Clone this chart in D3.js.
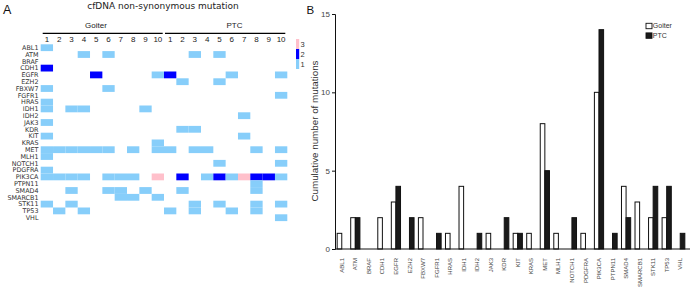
<!DOCTYPE html>
<html>
<head>
<meta charset="utf-8">
<script src="https://cdn.jsdelivr.net/npm/d3@7"></script>
<style>
  html, body { margin: 0; padding: 0; background: #fff; }
  svg { display: block; font-family: "Liberation Sans", Arial, sans-serif; }
</style>
</head>
<body>
<div id="chart"></div>
<script>
// Genes shown in both panels
const genes = ["ABL1", "ATM", "BRAF", "CDH1", "EGFR", "EZH2", "FBXW7", "FGFR1", "HRAS",
  "IDH1", "IDH2", "JAK3", "KDR", "KIT", "KRAS", "MET", "MLH1", "NOTCH1", "PDGFRA",
  "PIK3CA", "PTPN11", "SMAD4", "SMARCB1", "STK11", "TP53", "VHL"];

// Sample columns: Goiter 1-10, then PTC 1-10
const sampleLabels = ["1", "2", "3", "4", "5", "6", "7", "8", "9", "10",
  "1", "2", "3", "4", "5", "6", "7", "8", "9", "10"];

// Mutation counts per gene (rows) and sample (Goiter 1-10, PTC 1-10)
const mutationMatrix = [
  [1,0,0,0,0,0,0,0,0,0, 0,0,0,0,0,0,0,0,0,0], // ABL1
  [0,0,0,1,0,1,0,0,0,0, 0,0,1,0,1,0,0,0,0,0], // ATM
  [0,0,0,0,0,0,0,0,0,0, 0,0,0,0,0,0,0,0,0,0], // BRAF
  [2,0,0,0,0,0,0,0,0,0, 0,0,0,0,0,0,0,0,0,0], // CDH1
  [0,0,0,0,2,0,0,0,0,1, 2,0,0,0,0,1,0,0,0,1], // EGFR
  [0,0,0,0,0,0,0,0,0,0, 0,1,0,0,1,0,0,0,0,0], // EZH2
  [1,0,0,0,0,1,0,0,0,0, 0,0,0,0,0,0,0,0,0,0], // FBXW7
  [0,0,0,0,0,0,0,0,0,0, 0,0,0,0,0,0,0,0,0,1], // FGFR1
  [1,0,0,0,0,0,0,0,0,0, 0,0,0,0,0,0,0,0,0,0], // HRAS
  [1,0,1,1,0,0,0,0,1,0, 0,0,0,0,0,0,0,0,0,0], // IDH1
  [0,0,0,0,0,0,0,0,0,0, 0,0,0,0,0,0,1,0,0,0], // IDH2
  [1,0,0,0,0,0,0,0,0,0, 0,0,0,0,0,0,0,0,0,0], // JAK3
  [0,0,0,0,0,0,0,0,0,0, 0,1,1,0,0,0,0,0,0,0], // KDR
  [1,0,0,0,0,0,0,0,0,0, 0,0,0,0,0,0,1,0,0,0], // KIT
  [0,0,0,0,0,0,0,0,0,1, 0,0,0,0,0,0,0,0,0,0], // KRAS
  [1,1,1,1,1,1,0,1,0,1, 1,0,1,1,0,0,0,1,0,1], // MET
  [1,0,0,0,0,0,0,0,0,0, 0,0,0,0,0,0,0,0,0,0], // MLH1
  [0,0,0,0,0,0,0,0,0,0, 0,0,0,0,1,0,0,0,0,1], // NOTCH1
  [1,0,0,0,0,0,0,0,0,0, 0,0,0,0,0,0,0,0,0,0], // PDGFRA
  [1,1,1,1,0,1,1,1,0,3, 0,2,0,1,2,1,3,2,2,1], // PIK3CA
  [0,0,0,0,0,0,0,0,0,0, 0,0,0,0,0,0,0,1,0,0], // PTPN11
  [0,0,1,0,0,1,1,0,1,0, 0,1,0,0,0,0,0,1,0,0], // SMAD4
  [0,0,0,0,0,0,1,1,0,1, 0,0,0,0,0,0,0,0,0,0], // SMARCB1
  [1,0,1,0,0,0,0,0,0,0, 0,0,1,0,1,0,0,1,0,1], // STK11
  [0,1,0,1,0,0,0,0,0,0, 1,0,1,0,0,1,0,1,0,0], // TP53
  [0,0,0,0,0,0,0,0,0,0, 0,0,0,0,0,0,0,0,0,1]  // VHL
];

// Panel B: cumulative number of mutations
const goiterCounts = [1, 2, 0, 2, 3, 0, 2, 0, 1, 4, 0, 1, 0, 1, 1, 8, 1, 0, 1, 10, 0, 4, 3, 2, 2, 0];
const ptcCounts    = [0, 2, 0, 0, 4, 2, 0, 1, 0, 0, 1, 0, 2, 1, 0, 5, 0, 2, 0, 14, 1, 2, 0, 4, 4, 1];

const groups = ["Goiter", "PTC"];
const levels = [3, 2, 1];
const yTicks = [0, 5, 10, 15];

const width = 693, height = 291;

const svg = d3.select("#chart").append("svg")
  .attr("width", width)
  .attr("height", height);

// ---------- Panel A: heatmap ----------
const colX = d3.scaleBand().domain(d3.range(20)).range([40.7, 287.3]);
const rowY = d3.scaleBand().domain(genes).range([44.3, 221.1]);
const heatColor = d3.scaleOrdinal().domain([1, 2, 3]).range(["#87cefa", "#0000ff", "#ffc0cb"]);

svg.append("text")
  .attr("x", 3).attr("y", 13.5)
  .attr("font-size", 12.5)
  .attr("fill", "#111")
  .text("A");

svg.append("text")
  .attr("x", 163).attr("y", 8.5)
  .attr("text-anchor", "middle")
  .attr("font-family", "DejaVu Sans, sans-serif")
  .attr("font-size", 9)
  .attr("fill", "#222")
  .text("cfDNA non-synonymous mutation");

// group labels and lines
const groupSpans = [
  { name: "Goiter", x0: 42.7, x1: 162.7, tx: 96 },
  { name: "PTC", x0: 165, x1: 285.3, tx: 234.5 }
];
groupSpans.forEach(g => {
  svg.append("text")
    .attr("x", g.tx).attr("y", 27.5)
    .attr("text-anchor", "middle")
    .attr("font-size", 8)
    .attr("fill", "#222")
    .text(g.name);
  svg.append("line")
    .attr("x1", g.x0).attr("x2", g.x1)
    .attr("y1", 33.3).attr("y2", 33.3)
    .attr("stroke", "#000")
    .attr("stroke-width", 1.3);
});

// column numbers
svg.append("g")
  .selectAll("text")
  .data(sampleLabels)
  .join("text")
  .attr("x", (d, i) => colX(i) + colX.bandwidth() / 2)
  .attr("y", 42)
  .attr("text-anchor", "middle")
  .attr("font-size", 8)
  .attr("fill", "#222")
  .text(d => d);

// gene labels
svg.append("g")
  .selectAll("text")
  .data(genes)
  .join("text")
  .attr("x", 38.5)
  .attr("y", d => rowY(d) + rowY.bandwidth() / 2)
  .attr("dy", "0.36em")
  .attr("text-anchor", "end")
  .attr("font-family", "DejaVu Sans, sans-serif")
  .attr("font-size", 6.4)
  .attr("fill", "#333")
  .text(d => d);

// cells
const cells = [];
mutationMatrix.forEach((row, r) => {
  row.forEach((v, c) => {
    if (v > 0) cells.push({ gene: genes[r], col: c, value: v });
  });
});

svg.append("g")
  .selectAll("rect")
  .data(cells)
  .join("rect")
  .attr("x", d => colX(d.col))
  .attr("y", d => rowY(d.gene))
  .attr("width", colX.bandwidth())
  .attr("height", rowY.bandwidth())
  .attr("fill", d => heatColor(d.value));

// colour key
const keyY = d3.scaleBand().domain(levels).range([39, 69]);
const key = svg.append("g");
key.selectAll("rect")
  .data(levels)
  .join("rect")
  .attr("x", 296)
  .attr("y", d => keyY(d))
  .attr("width", 3.2)
  .attr("height", keyY.bandwidth())
  .attr("fill", d => heatColor(d));
key.selectAll("text")
  .data(levels)
  .join("text")
  .attr("x", 300.5)
  .attr("y", d => keyY(d) + keyY.bandwidth() / 2)
  .attr("dy", "0.35em")
  .attr("font-size", 7.5)
  .attr("fill", "#333")
  .text(d => d);

// ---------- Panel B: bar chart ----------
svg.append("text")
  .attr("x", 306.5).attr("y", 14)
  .attr("font-size", 11.5)
  .attr("fill", "#111")
  .text("B");

const x0 = d3.scaleBand().domain(genes).range([335, 687]);
const x1 = d3.scaleBand().domain(groups)
  .range([x0.bandwidth() / 2 - 4.6, x0.bandwidth() / 2 + 4.6]);
const yB = d3.scaleLinear().domain([0, 15]).range([249, 14]);

const barData = [];
genes.forEach((g, i) => {
  barData.push({ gene: g, group: "Goiter", value: goiterCounts[i] });
  barData.push({ gene: g, group: "PTC", value: ptcCounts[i] });
});

svg.append("g")
  .selectAll("rect")
  .data(barData.filter(d => d.value > 0))
  .join("rect")
  .attr("x", d => x0(d.gene) + x1(d.group))
  .attr("y", d => yB(d.value))
  .attr("width", x1.bandwidth())
  .attr("height", d => yB(0) - yB(d.value))
  .attr("fill", d => d.group === "Goiter" ? "#fff" : "#1a1a1a")
  .attr("stroke", "#111")
  .attr("stroke-width", 1);

// y axis
const yAxis = svg.append("g")
  .attr("transform", "translate(335,0)")
  .call(d3.axisLeft(yB).tickValues(yTicks).tickSize(3).tickPadding(2));
yAxis.select(".domain").attr("stroke", "#111").attr("stroke-width", 1);
yAxis.selectAll(".tick line").attr("stroke", "#111");
yAxis.selectAll(".tick text")
  .attr("font-size", 8)
  .attr("font-family", "Liberation Sans, Arial, sans-serif")
  .attr("fill", "#444");

// x axis line
svg.append("line")
  .attr("x1", 335).attr("x2", 690)
  .attr("y1", yB(0)).attr("y2", yB(0))
  .attr("stroke", "#111")
  .attr("stroke-width", 1);

// x labels (rotated)
svg.append("g")
  .selectAll("text")
  .data(genes)
  .join("text")
  .attr("transform", d => `translate(${x0(d) + x0.bandwidth() / 2},258) rotate(-90)`)
  .attr("dy", "0.35em")
  .attr("text-anchor", "end")
  .attr("font-size", 6)
  .attr("fill", "#444")
  .text(d => d);

// y label
svg.append("text")
  .attr("transform", "translate(318,131) rotate(-90)")
  .attr("text-anchor", "middle")
  .attr("font-size", 9.8)
  .attr("fill", "#333")
  .text("Cumulative number of mutations");

// legend
const legend = svg.append("g").attr("transform", "translate(646,23.3)");
groups.forEach((g, i) => {
  legend.append("rect")
    .attr("x", 0).attr("y", i * 9.6)
    .attr("width", 6).attr("height", 5.4)
    .attr("fill", g === "Goiter" ? "#fff" : "#1a1a1a")
    .attr("stroke", "#111")
    .attr("stroke-width", 0.9);
  legend.append("text")
    .attr("x", 6.8).attr("y", i * 9.6 + 2.7)
    .attr("dy", "0.35em")
    .attr("font-size", 7)
    .attr("fill", "#333")
    .text(g);
});
</script>
</body>
</html>
